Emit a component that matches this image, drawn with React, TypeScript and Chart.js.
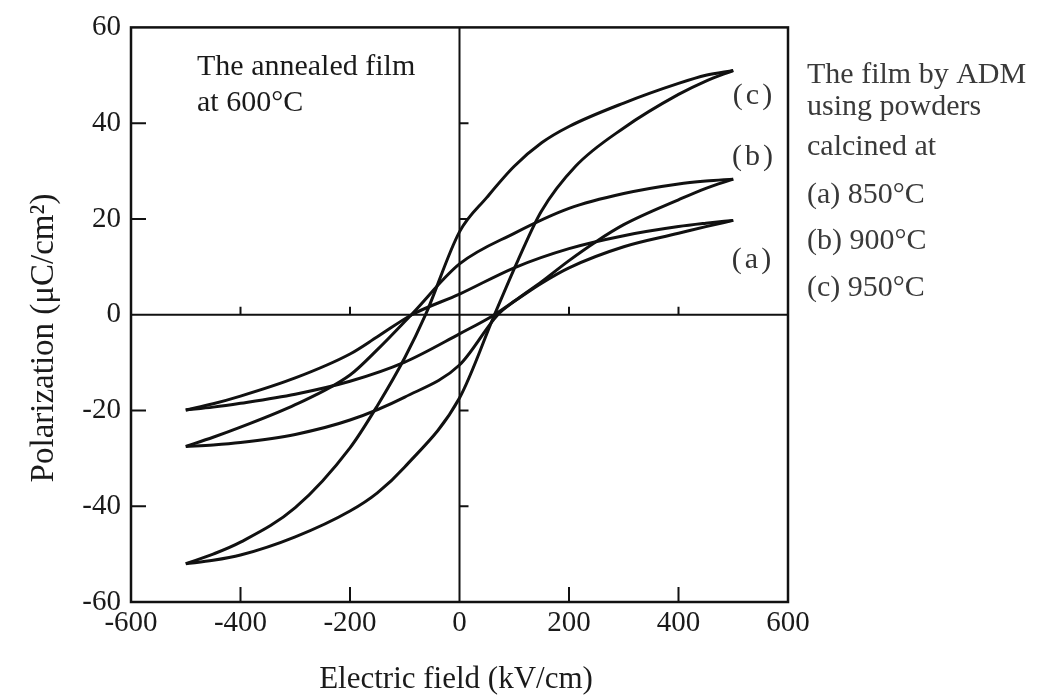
import React, { useEffect, useRef } from 'react';
import { Chart, registerables } from 'chart.js';

Chart.register(...registerables);

const FONT = '"Liberation Serif", "Times New Roman", serif';

// Axis ticks
const xTickValues = [-600, -400, -200, 0, 200, 400, 600];
const yTickValues = [-60, -40, -20, 0, 20, 40, 60];
const innerXMarks = [-400, -200, 200, 400];
const innerYMarks = [-40, -20, 20, 40];

// Loop (a) 850°C
const aUpE = [500, 450, 400, 300, 200, 100, 0, -87, -150, -200, -300, -400, -450, -500];
const aUpP = [19.7, 19.1, 18.4, 16.5, 13.8, 9.8, 4.3, 0, -4.6, -8.2, -13.2, -17, -18.6, -19.9];
const aLoE = [-500, -450, -400, -300, -200, -100, 0, 64, 100, 150, 200, 300, 400, 450, 500];
const aLoP = [-19.9, -19.3, -18.5, -16.6, -13.9, -9.9, -4.0, 0, 2.8, 6.6, 9.8, 14.2, 17.0, 18.4, 19.7];

// Loop (b) 900°C
const bUpE = [500, 450, 400, 300, 200, 100, 0, -88, -150, -200, -300, -400, -450, -500];
const bUpP = [28.3, 27.9, 27.3, 25.3, 22.2, 17.0, 10.6, 0, -7.3, -12.6, -18.8, -23.5, -25.6, -27.5];
const bLoE = [-500, -450, -400, -300, -200, -100, 0, 70, 100, 150, 200, 250, 300, 400, 450, 500];
const bLoP = [-27.5, -27.2, -26.7, -25.0, -22.0, -17.2, -10.5, 0, 2.8, 6.9, 11.3, 15.3, 18.8, 24.0, 26.4, 28.3];

// Loop (c) 950°C
const cUpE = [500, 450, 400, 300, 200, 150, 100, 50, 0, -62, -100, -150, -200, -300, -400, -450, -500];
const cUpP = [51, 50.0, 48.3, 44.2, 39.3, 35.9, 31.0, 24.5, 17.3, 0, -9, -19, -27.8, -40.3, -47.5, -50, -52];
const cLoE = [-500, -450, -400, -300, -200, -150, -100, 0, 64, 107, 149, 212, 300, 400, 450, 500];
const cLoP = [-52, -51.3, -50.2, -46.4, -41, -37.2, -31.8, -17.4, 0, 11.4, 21.5, 31, 39, 46, 48.8, 51];

const toPts = (e: number[], p: number[]) => e.map((v, i) => ({ x: v, y: p[i] }));

const branches = [
  { label: '(a) up', e: aUpE, p: aUpP },
  { label: '(a) down', e: aLoE, p: aLoP },
  { label: '(b) up', e: bUpE, p: bUpP },
  { label: '(b) down', e: bLoE, p: bLoP },
  { label: '(c) up', e: cUpE, p: cUpP },
  { label: '(c) down', e: cLoE, p: cLoP },
];

const decorPlugin = {
  id: 'decor',
  beforeDatasetsDraw(chart: any) {
    const { ctx, chartArea, scales } = chart;
    const { left, right, top, bottom } = chartArea;
    const x = scales.x;
    const y = scales.y;
    const x0 = x.getPixelForValue(0);
    const y0 = y.getPixelForValue(0);
    ctx.save();
    ctx.strokeStyle = '#111';
    ctx.lineWidth = 2;
    ctx.beginPath();
    ctx.moveTo(left, y0);
    ctx.lineTo(right, y0);
    ctx.moveTo(x0, top);
    ctx.lineTo(x0, bottom);
    ctx.stroke();
    ctx.beginPath();
    innerXMarks.forEach((v) => {
      const px = x.getPixelForValue(v);
      ctx.moveTo(px, bottom);
      ctx.lineTo(px, bottom - 15);
      ctx.moveTo(px, y0);
      ctx.lineTo(px, y0 - 8);
    });
    innerYMarks.forEach((v) => {
      const py = y.getPixelForValue(v);
      ctx.moveTo(left, py);
      ctx.lineTo(left + 15, py);
      ctx.moveTo(x0, py);
      ctx.lineTo(x0 + 9, py);
    });
    ctx.stroke();
    ctx.lineWidth = 2.5;
    ctx.strokeRect(left, top, right - left, bottom - top);
    ctx.restore();
  },
  afterDraw(chart: any) {
    const { ctx } = chart;
    ctx.save();
    ctx.fillStyle = '#1a1a1a';
    ctx.textBaseline = 'alphabetic';
    ctx.textAlign = 'left';
    ctx.font = `30px ${FONT}`;
    ctx.fillText('The annealed film', 197, 75);
    ctx.fillText('at 600°C', 197, 111);

    ctx.fillStyle = '#333';
    ctx.textAlign = 'center';
    try { (ctx as any).letterSpacing = '3px'; } catch (e) {}
    ctx.fillText('(c)', 754, 104);
    ctx.fillText('(b)', 754, 165);
    ctx.fillText('(a)', 753, 268);
    try { (ctx as any).letterSpacing = '0px'; } catch (e) {}

    ctx.fillStyle = '#3a3a3a';
    ctx.textAlign = 'left';
    ctx.fillText('The film by ADM', 807, 83);
    ctx.fillText('using powders', 807, 115);
    ctx.fillText('calcined at', 807, 155);
    ctx.fillText('(a) 850°C', 807, 203);
    ctx.fillText('(b) 900°C', 807, 249);
    ctx.fillText('(c) 950°C', 807, 296);

    ctx.fillStyle = '#1a1a1a';
    ctx.font = `31px ${FONT}`;
    ctx.textAlign = 'center';
    ctx.fillText('Electric field (kV/cm)', 456, 688);

    ctx.font = `33px ${FONT}`;
    ctx.translate(53, 338);
    ctx.rotate(-Math.PI / 2);
    ctx.fillText('Polarization (μC/cm²)', 0, 0);
    ctx.restore();
  },
};

export default function App() {
  const canvasRef = useRef<HTMLCanvasElement | null>(null);

  useEffect(() => {
    const canvas = canvasRef.current;
    if (!canvas) return;
    const chart = new Chart(canvas, {
      type: 'scatter',
      data: {
        datasets: branches.map((b) => ({
          label: b.label,
          data: toPts(b.e, b.p),
          showLine: true,
          borderColor: '#111',
          borderWidth: 3,
          pointRadius: 0,
          cubicInterpolationMode: 'monotone',
          tension: 0.4,
          fill: false,
        })),
      },
      options: {
        animation: false,
        responsive: false,
        maintainAspectRatio: false,
        layout: { padding: { top: 22, right: 261, left: 0, bottom: 0 } },
        plugins: {
          legend: { display: false },
          tooltip: { enabled: false },
          title: { display: false },
        },
        scales: {
          x: {
            type: 'linear',
            min: -600,
            max: 600,
            afterBuildTicks: (s: any) => {
              s.ticks = xTickValues.map((v) => ({ value: v }));
            },
            afterFit: (s: any) => {
              s.height = 94;
            },
            grid: { display: false, drawTicks: false },
            border: { display: false },
            ticks: {
              font: { family: FONT, size: 29 },
              color: '#1a1a1a',
              padding: 4,
              maxRotation: 0,
              autoSkip: false,
            },
          },
          y: {
            type: 'linear',
            min: -60,
            max: 60,
            afterBuildTicks: (s: any) => {
              s.ticks = yTickValues.map((v) => ({ value: v }));
            },
            afterFit: (s: any) => {
              s.width = 131;
            },
            grid: { display: false, drawTicks: false },
            border: { display: false },
            ticks: {
              font: { family: FONT, size: 29 },
              color: '#1a1a1a',
              padding: 10,
              autoSkip: false,
            },
          },
        },
      },
      plugins: [decorPlugin],
    } as any);
    return () => chart.destroy();
  }, []);

  return (
    <div style={{ position: 'absolute', left: 0, top: 0, width: 1049, height: 696, background: '#fff' }}>
      <canvas ref={canvasRef} width={1049} height={696} style={{ display: 'block' }} />
    </div>
  );
}
